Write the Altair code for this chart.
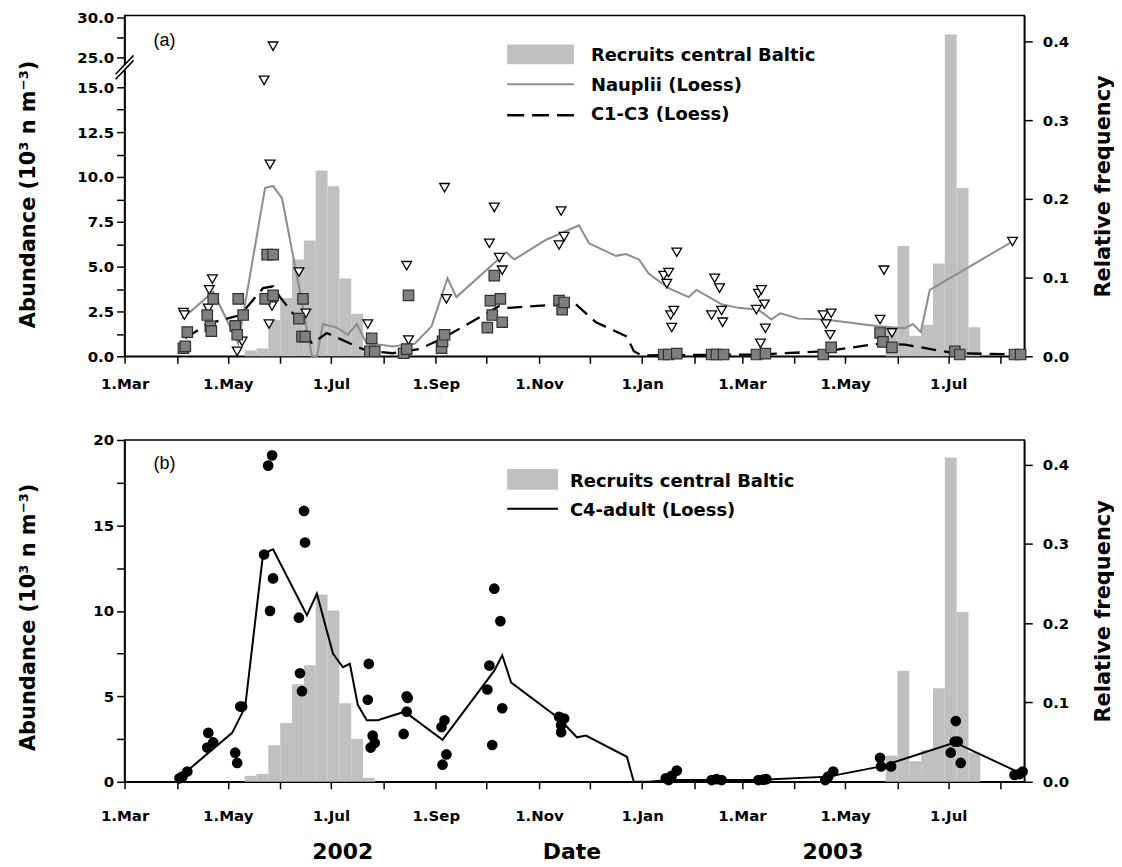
import altair as alt
import pandas as pd

# ---------------- data (x = days since 1 March 2002) ----------------
month_days = [0, 31, 61, 92, 122, 153, 184, 214, 245, 275, 306, 337, 365, 396, 426, 457, 487, 518]
month_labels = ["1.Mar", "", "1.May", "", "1.Jul", "", "1.Sep", "", "1.Nov", "", "1.Jan", "",
                "1.Mar", "", "1.May", "", "1.Jul", ""]

# Recruits central Baltic, weekly bins (relative frequency)
rec_start = [71, 78, 85, 92, 99, 106, 113, 120, 127, 134, 141,
             450, 457, 464, 471, 478, 485, 492, 499]
rec_freq = [0.0075, 0.010, 0.046, 0.074, 0.123, 0.147, 0.236, 0.216, 0.099, 0.054, 0.005,
            0.033, 0.140, 0.026, 0.040, 0.118, 0.409, 0.214, 0.037]

# Nauplii Loess
naup_loess_day = [34.2, 52.4, 67.2, 83.1, 87.8, 93.1, 103.7, 110.8, 113.7, 117.3, 125.5, 132.0,
                  137.3, 143.2, 150.9, 158.5, 165.6, 171.5, 181.5, 190.9, 196.2, 225.7, 230.4,
                  249.3, 268.7, 274.6, 290.5, 296.4, 304.1, 310.0, 321.7, 333.5, 338.2, 353.0,
                  363.0, 374.8, 382.4, 387.7, 398.4, 414.3, 445.5, 461.4, 466.1, 470.8, 476.1, 525.0]
naup_loess_val = [2.1, 3.6, 0.7, 9.4, 9.5, 8.8, 3.6, 0.0, 0.0, 1.8, 1.6, 1.2,
                  1.8, 0.7, 0.65, 0.55, 0.65, 0.7, 1.67, 4.35, 3.3, 5.8, 5.4,
                  6.5, 7.3, 6.3, 5.6, 5.7, 5.4, 4.6, 3.8, 3.3, 3.7, 2.9,
                  2.7, 2.6, 2.05, 2.4, 2.1, 2.05, 1.67, 1.56, 1.8, 1.35, 3.7, 6.4]

# C1-C3 Loess
c13_loess_day = [35.9, 48.9, 68.4, 81.9, 87.8, 91.9, 103.7, 110.8, 119.6, 131.4, 143.2, 158.5,
                 174.4, 188.0, 221.6, 227.5, 256.9, 266.9, 278.7, 297.0, 301.1, 305.8, 374.8,
                 414.3, 447.3, 461.4, 490.9, 530.0]
c13_loess_val = [1.0, 1.8, 2.3, 3.8, 3.9, 3.3, 1.9, 0.7, 1.3, 0.8, 0.3, 0.17,
                 0.4, 1.0, 2.8, 2.7, 2.9, 2.9, 1.9, 1.1, 0.28, 0.05, 0.1,
                 0.28, 0.72, 0.65, 0.17, 0.1]

# Nauplii samples (open triangles)
naup_day = [34.8, 35.4, 49.5, 50.1, 51.9, 66.6, 69.5, 82.5, 85.4, 86.0, 87.2, 87.8,
            103.1, 107.2, 143.8, 166.8, 167.9, 189.2, 190.3, 215.7, 218.6, 221.6, 223.3,
            256.9, 258.1, 259.9, 318.8, 320.6, 321.7, 322.9, 323.5, 324.7, 326.5,
            347.1, 348.9, 351.8, 353.0, 353.6, 373.6, 374.8, 376.0, 376.5, 378.3, 378.9,
            413.1, 414.8, 417.2, 417.8, 446.7, 449.0, 453.7, 525.0]
naup_val = [2.44, 2.3, 2.67, 3.7, 4.3, 0.28, 0.83, 17.3, 1.8, 10.7, 2.8, 26.4,
            4.7, 2.4, 1.8, 5.05, 0.9, 9.4, 3.2, 6.3, 8.3, 5.5, 4.8,
            6.2, 8.1, 6.67, 4.5, 4.05, 4.67, 2.3, 1.6, 2.55, 5.8,
            2.3, 4.35, 3.8, 2.55, 1.9, 2.6, 3.5, 0.72, 3.7, 2.9, 1.56,
            2.3, 1.8, 1.2, 2.4, 2.05, 4.8, 1.3, 6.4]

# C1-C3 samples (grey squares)
c13_day = [34.8, 35.9, 37.1, 48.9, 50.7, 51.3, 52.4, 65.4, 66.6, 67.2, 70.1,
           83.1, 84.3, 87.8, 87.8, 103.1, 104.9, 105.5, 106.7, 145.0, 146.1, 147.9,
           165.0, 166.8, 167.9, 187.4, 188.0, 189.2, 214.5, 216.3, 217.4, 218.6, 222.2, 223.3,
           256.9, 258.7, 259.9, 318.8, 321.7, 326.5, 347.1, 350.0, 354.2, 373.6, 378.9,
           413.1, 417.8, 446.7, 448.4, 453.7, 490.9, 493.8, 526.2, 529.8]
c13_val = [0.45, 0.55, 1.35, 2.3, 1.67, 1.4, 3.2, 1.7, 1.2, 3.2, 2.3,
           3.2, 5.67, 5.67, 3.4, 2.1, 1.1, 3.2, 1.1, 0.28, 1.0, 0.28,
           0.17, 0.4, 3.4, 0.45, 0.83, 1.2, 1.6, 3.1, 2.3, 4.5, 3.2, 1.9,
           3.1, 2.6, 3.0, 0.1, 0.1, 0.15, 0.1, 0.1, 0.1, 0.1, 0.15,
           0.1, 0.5, 1.3, 0.8, 0.5, 0.28, 0.1, 0.1, 0.1]

# C4-adult Loess
c4_loess_day = [31.2, 63.6, 71.3, 81.9, 87.8, 107.8, 113.7, 123.2, 129.1, 133.2, 137.9, 143.2,
                149.7, 165.6, 188.0, 218.6, 223.3, 228.6, 256.9, 267.5, 272.8, 297.0, 301.1,
                310.0, 321.7, 374.8, 416.0, 447.3, 490.9, 529.8]
c4_loess_val = [0.15, 2.86, 4.37, 13.35, 13.6, 9.74, 11.0, 7.5, 6.7, 6.9, 4.5, 3.6,
                3.6, 4.1, 2.45, 6.5, 7.4, 5.8, 3.7, 2.6, 2.7, 1.46, 0.0,
                0.0, 0.1, 0.1, 0.3, 0.9, 2.3, 0.5]

# C4-adult samples (black dots)
c4_day = [32.4, 34.2, 37.1, 48.9, 49.5, 52.4, 65.4, 66.6, 68.4, 69.5,
          82.5, 84.9, 87.2, 87.8, 86.0, 103.1, 103.7, 104.9, 106.1, 106.7,
          143.8, 144.4, 145.5, 146.7, 147.9, 165.0, 166.8, 167.4, 166.8,
          187.4, 188.0, 189.2, 190.3, 214.5, 215.7, 217.4, 218.6, 222.2, 223.3,
          256.9, 258.1, 258.1, 259.9, 320.0, 321.7, 323.5, 326.5,
          347.1, 350.0, 353.0, 374.8, 377.7, 379.5, 414.3, 416.0, 419.0,
          446.7, 447.3, 453.2, 488.5, 490.9, 491.5, 492.6, 494.4, 526.2, 529.2, 531.0]
c4_val = [0.2, 0.3, 0.6, 2.0, 2.86, 2.3, 1.7, 1.1, 4.4, 4.4,
          13.3, 18.5, 19.1, 11.9, 10.0, 9.6, 6.35, 5.3, 15.85, 14.0,
          4.8, 6.9, 2.0, 2.7, 2.27, 2.8, 5.0, 4.9, 4.1,
          3.2, 1.0, 3.6, 1.6, 5.4, 6.8, 2.15, 11.3, 9.4, 4.3,
          3.8, 3.3, 2.9, 3.7, 0.2, 0.1, 0.35, 0.65,
          0.1, 0.15, 0.1, 0.1, 0.12, 0.15, 0.1, 0.3, 0.6,
          1.4, 0.9, 0.9, 1.7, 2.35, 3.55, 2.35, 1.1, 0.4, 0.45, 0.6]

# axis ticks of panel (a): broken axis 0-15 | 25-30
ya_ticks = [0, 1.25, 2.5, 3.75, 5, 6.25, 7.5, 8.75, 10, 11.25, 12.5, 13.75, 15, 25, 27.5, 30]
ya_labels = ["0.0", "", "2.5", "", "5.0", "", "7.5", "", "10.0", "", "12.5", "", "15.0",
             "25.0", "", "30.0"]
yb_ticks = [0, 2.5, 5, 7.5, 10, 12.5, 15, 17.5, 20]
yb_labels = ["0", "", "5", "", "10", "", "15", "", "20"]
rf_ticks = [0, 0.1, 0.2, 0.3, 0.4]

legend_a = ["Recruits central Baltic", "Nauplii (Loess)", "C1-C3 (Loess)"]
legend_b = ["Recruits central Baltic", "C4-adult (Loess)"]
bottom_text = ["2002", "Date", "2003"]

# ---------------- helpers ----------------
def brk(v):
    if v <= 15:
        return v
    if v < 25:
        return 15 + (v - 15) * 30 / 180
    return 15 + 30 / 18 + (v - 25) * 8 / 18

BRK = ("datum.v <= 15 ? datum.v : (datum.v < 25 ? 15 + (datum.v - 15) * 30/180 "
       ": 15 + 30/18 + (datum.v - 25) * 8/18)")

def expr(vals, labels):
    parts = [f"datum.value == {v!r} ? '{l}'" for v, l in zip(vals, labels) if l]
    return " : ".join(parts) + " : ''"

FONT = "DejaVu Sans"
W = 903
HA = 342
HB = 343
GREY_BAR = "#c0c0c0"
one = alt.Data(values=[{"k": 0}])

x_scale = alt.Scale(domain=[0, 532], nice=False, zero=False)

def x_axis(pad):
    return alt.Axis(values=month_days, labelExpr=expr(month_days, month_labels), title=None,
                    tickCount=100, tickSize=7, labelPadding=pad, labelOverlap=False,
                    labelFlush=False)

def txt(s, x, y, size=18, weight="bold", font=FONT, align="left"):
    return alt.Chart(one).mark_text(text=s, align=align, baseline="middle", font=font,
                                    fontSize=size, fontWeight=weight, color="black").encode(
        x=alt.value(x), y=alt.value(y))

def seg(x, x2, y, y2, color="black", width=1.5, dash=None):
    kw = dict(color=color, strokeWidth=width)
    if dash:
        kw["strokeDash"] = dash
    return alt.Chart(one).mark_rule(**kw).encode(
        x=alt.value(x), x2=alt.value(x2), y=alt.value(y), y2=alt.value(y2))

def box(x, x2, y, y2, color):
    return alt.Chart(one).mark_rect(color=color).encode(
        x=alt.value(x), x2=alt.value(x2), y=alt.value(y), y2=alt.value(y2))

rec_df = pd.DataFrame({"start": rec_start, "freq": rec_freq})

def bars(h, top, pad):
    return alt.Chart(rec_df).transform_calculate(end="datum.start + 7").mark_rect(
        color=GREY_BAR).encode(
        x=alt.X("start:Q", scale=x_scale, axis=x_axis(pad)),
        x2="end:Q",
        y=alt.Y("freq:Q", scale=alt.Scale(domain=[0, top], nice=False),
                axis=alt.Axis(orient="right", values=rf_ticks, format=".1f", tickCount=100,
                              title="Relative frequency", titleAngle=270, titleX=79,
                              titleY=h / 2, titleBaseline="middle", titleAlign="center",
                              tickSize=8, labelPadding=10, labelOverlap=False)),
        y2=alt.datum(0))

# ---------------- panel (a) ----------------
ya_pos = [brk(v) for v in ya_ticks]
ya_axis = alt.Axis(orient="left", values=ya_pos, labelExpr=expr(ya_pos, ya_labels),
                   tickCount=100,
                   title="Abundance (10³ n m⁻³)", titleAngle=270, titleX=-96, titleY=HA / 2 + 8,
                   titleBaseline="middle", titleAlign="center", tickSize=8, labelPadding=3,
                   labelOverlap=False)
ya_scale = alt.Scale(domain=[0, 19.0], nice=False)

naup_line = alt.Chart(pd.DataFrame({"day": naup_loess_day, "v": naup_loess_val})).transform_calculate(
    pos=BRK).mark_line(color="#8c8c8c", strokeWidth=2).encode(
    x=alt.X("day:Q", scale=x_scale), y=alt.Y("pos:Q", scale=ya_scale, axis=ya_axis))
c13_line = alt.Chart(pd.DataFrame({"day": c13_loess_day, "v": c13_loess_val})).transform_calculate(
    pos=BRK).mark_line(color="black", strokeWidth=2.3, strokeDash=[15, 8]).encode(
    x=alt.X("day:Q", scale=x_scale), y=alt.Y("pos:Q", scale=ya_scale, axis=ya_axis))
tri = alt.Chart(pd.DataFrame({"day": naup_day, "v": naup_val})).transform_calculate(
    pos=BRK).mark_point(shape="triangle-down", filled=True, fill="white", stroke="black",
                         strokeWidth=1.3, size=95, opacity=1).encode(
    x=alt.X("day:Q", scale=x_scale), y=alt.Y("pos:Q", scale=ya_scale, axis=ya_axis))
sq = alt.Chart(pd.DataFrame({"day": c13_day, "v": c13_val})).transform_calculate(
    pos=BRK).mark_point(shape="square", filled=True, fill="#7f7f7f", stroke="#303030",
                         strokeWidth=1.2, size=110, opacity=1).encode(
    x=alt.X("day:Q", scale=x_scale), y=alt.Y("pos:Q", scale=ya_scale, axis=ya_axis))

ann_a = [
    txt("(a)", 29, 26, size=18, weight="normal", font="Liberation Sans"),
    box(384, 451, 29, 49, GREY_BAR),
    seg(384, 451, 69, 69, color="#8c8c8c", width=2),
    seg(384, 451, 100, 100, color="black", width=2.5, dash=[17, 8]),
    txt(legend_a[0], 468, 41), txt(legend_a[1], 468, 71), txt(legend_a[2], 468, 100),
    seg(0, 0, 50, 54, color="white", width=4),
    seg(-9, 9, 59, 40), seg(-9, 9, 64, 45),
]

left_a = alt.layer(naup_line, c13_line, tri, sq, *ann_a)
panel_a = alt.layer(bars(HA, 0.433, 13), left_a).resolve_scale(y="independent").properties(
    width=W, height=HA)

# ---------------- panel (b) ----------------
yb_axis = alt.Axis(orient="left", values=yb_ticks, labelExpr=expr(yb_ticks, yb_labels),
                   tickCount=100,
                   title="Abundance (10³ n m⁻³)", titleAngle=270, titleX=-96, titleY=HB / 2 + 6,
                   titleBaseline="middle", titleAlign="center", tickSize=8, labelPadding=3,
                   labelOverlap=False)
yb_scale = alt.Scale(domain=[0, 20], nice=False)

c4_line = alt.Chart(pd.DataFrame({"day": c4_loess_day, "v": c4_loess_val})).mark_line(
    color="black", strokeWidth=2).encode(
    x=alt.X("day:Q", scale=x_scale), y=alt.Y("v:Q", scale=yb_scale, axis=yb_axis))
dots = alt.Chart(pd.DataFrame({"day": c4_day, "v": c4_val})).mark_circle(
    color="black", size=115, opacity=1).encode(
    x=alt.X("day:Q", scale=x_scale), y=alt.Y("v:Q", scale=yb_scale, axis=yb_axis))

ann_b = [
    txt("(b)", 29, 24, size=18, weight="normal", font="Liberation Sans"),
    box(384, 435, 29, 50, GREY_BAR),
    seg(384, 435, 69, 69, color="black", width=2),
    txt(legend_b[0], 447, 42), txt(legend_b[1], 447, 71),
    txt(bottom_text[0], 219, 414, size=22, align="center"),
    txt(bottom_text[1], 449, 414, size=22, align="center"),
    txt(bottom_text[2], 711, 414, size=22, align="center"),
]

left_b = alt.layer(c4_line, dots, *ann_b)
panel_b = alt.layer(bars(HB, 0.431, 20), left_b).resolve_scale(y="independent").properties(
    width=W, height=HB)

chart = alt.vconcat(panel_a, panel_b, spacing=84, bounds="flush").properties(
    padding={"left": 9, "top": 0, "right": 0, "bottom": 0}
).configure_view(stroke="black", strokeWidth=1.5).configure_axis(
    labelFont=FONT, labelFontSize=15, labelFontWeight="bold", labelColor="black",
    titleFont=FONT, titleFontSize=21, titleFontWeight="bold", titleColor="black",
    domainColor="black", domainWidth=1.5, tickColor="black", tickWidth=1.5, grid=False)

chart.save("out.html", embed_options={"renderer": "svg", "actions": False})
